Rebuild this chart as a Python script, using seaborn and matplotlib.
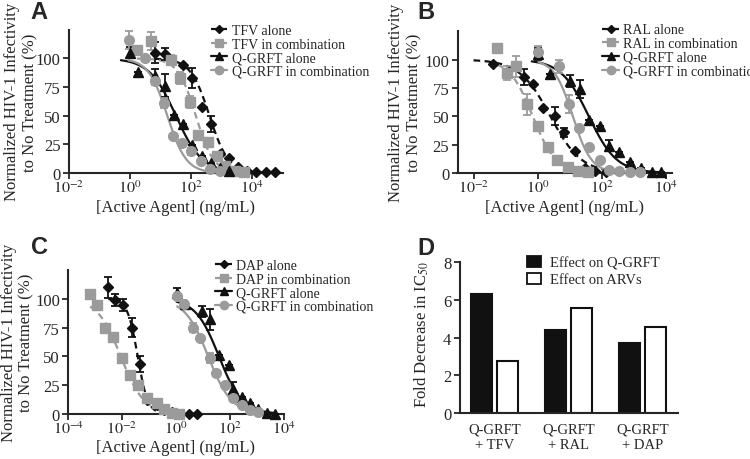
import numpy as np
import pandas as pd
import matplotlib
matplotlib.use("Agg")
import matplotlib.pyplot as plt
import seaborn as sns
from matplotlib.lines import Line2D
from matplotlib.patches import Patch
from matplotlib.ticker import NullLocator

BLACK = "#111111"
GRAY = "#9b9b9b"

# Panel A: TFV / Q-GRFT  (x = log10 ng/mL, y = % infectivity, err = SD)
a_tfv_alone_logc = [0.81, 1.14, 1.73, 2.03, 2.35, 2.65, 2.94, 3.23, 3.52, 3.82, 4.13, 4.44, 4.76]
a_tfv_alone_y = [105, 104, 94, 83, 58, 43, 16.5, 13, 5, 2, 1, 0.5, 0.5]
a_tfv_alone_err = [9, 5, 0, 9, 0, 7, 0, 0, 0, 0, 0, 0, 0]
a_tfv_combo_logc = [0.22, 0.70, 1.35, 1.65, 1.95, 2.24, 2.54, 2.84, 3.12, 3.43, 3.73]
a_tfv_combo_y = [107, 115, 99, 83, 62, 33, 27, 15, 6, 2, 0.5]
a_tfv_combo_err = [0, 8, 4, 5, 5, 0, 0, 0, 0, 0, 0]
a_qg_alone_logc = [0.0, 0.25, 0.81, 1.14, 1.44, 1.73, 2.03, 2.35, 2.65, 2.94, 3.25]
a_qg_alone_y = [105, 88, 85, 76, 51, 43, 24, 15, 9, 4, 2]
a_qg_alone_err = [5, 0, 6, 10, 0, 0, 0, 0, 0, 0, 0]
a_qg_combo_logc = [-0.05, 0.5, 0.83, 1.11, 1.41, 1.70, 2.0, 2.33, 2.63, 2.94]
a_qg_combo_y = [116, 100, 80, 61, 32, 26, 19, 10, 3.5, 2]
a_qg_combo_err = [8, 0, 3, 4, 0, 3, 3, 0, 0, 0]
# fitted curves: (log IC50, hill slope)
a_tfv_alone_fit = (2.6, 1.4)
a_tfv_combo_fit = (2.15, 1.5)
a_qg_alone_fit = (1.5, 1.0)
a_qg_combo_fit = (1.22, 1.4)

# Panel B: RAL / Q-GRFT
b_ral_alone_logc = [-1.39, -0.43, -0.13, 0.17, 0.54, 0.84, 1.16, 1.48, 1.81, 2.13]
b_ral_alone_y = [96, 84.5, 78, 57.6, 50, 35.7, 19.6, 4.4, 2, 0.6]
b_ral_alone_err = [0, 7, 0, 0, 8, 4, 0, 0, 0, 0]
b_ral_combo_logc = [-1.26, -0.94, -0.67, -0.32, 0.0, 0.32, 0.62, 0.95, 1.27, 1.59]
b_ral_combo_y = [110, 88, 94, 60.5, 41.5, 23, 11, 5.5, 2, 0.6]
b_ral_combo_err = [0, 6, 9, 9, 0, 0, 0, 0, 0, 0]
b_qg_alone_logc = [0.03, 0.39, 1.0, 1.32, 1.62, 1.94, 2.24, 2.56, 2.88, 3.23, 3.56, 3.87]
b_qg_alone_y = [105, 87, 81, 74, 47, 41.5, 24, 18, 10, 4.4, 1.2, 0.6]
b_qg_alone_err = [5, 0, 5, 8, 0, 0, 5, 0, 0, 0, 0, 0]
b_qg_combo_logc = [0.03, 0.68, 0.97, 1.29, 1.61, 1.94, 2.24, 2.56, 2.88, 3.2]
b_qg_combo_y = [107, 94, 60.5, 40, 22.5, 11, 2.6, 2, 1.2, 0.6]
b_qg_combo_err = [5, 6, 8, 0, 0, 0, 0, 0, 0, 0]
b_ral_alone_fit = (0.4, 0.9)
b_ral_combo_fit = (-0.15, 1.2)
b_qg_alone_fit = (1.6, 1.0)
b_qg_combo_fit = (1.1, 1.5)

# Panel C: DAP / Q-GRFT
c_dap_alone_logc = [-2.51, -2.26, -1.95, -1.64, -1.33, -1.06, -0.71, -0.44, -0.15, 0.16, 0.47, 0.78]
c_dap_alone_y = [110, 99, 94.5, 75, 43, 12, 8, 3.5, 1.5, 0, 0, 0]
c_dap_alone_err = [9, 5, 5, 8, 7, 0, 4, 0, 0, 0, 0, 0]
c_dap_combo_logc = [-3.19, -2.92, -2.64, -2.35, -2.01, -1.70, -1.39, -1.06, -0.71, -0.44, -0.15, 0.13]
c_dap_combo_y = [104, 94.5, 75, 66.6, 48.5, 34, 25.3, 14, 9.3, 4.4, 0.6, 0]
c_dap_combo_err = [4, 0, 0, 0, 0, 0, 0, 0, 0, 0, 0, 0]
c_qg_alone_logc = [0.03, 0.34, 0.96, 1.27, 1.62, 1.96, 2.12, 2.45, 2.76, 3.07, 3.38, 3.69]
c_qg_alone_y = [105, 95.6, 89, 82, 51.5, 42.7, 22, 15, 9.3, 4.4, 1.2, 0]
c_qg_alone_err = [4, 0, 5, 9, 0, 0, 6, 0, 0, 0, 0, 0]
c_qg_combo_logc = [0.05, 0.30, 0.65, 0.9, 1.25, 1.50, 1.83, 2.14, 2.45, 2.76, 3.07]
c_qg_combo_y = [102, 95, 75, 66, 48.5, 35.5, 25, 13.7, 7.8, 3.5, 1.5]
c_qg_combo_err = [0, 0, 4, 0, 4, 0, 0, 0, 0, 0, 0]
c_dap_alone_fit = (-1.42, 2.3)
c_dap_combo_fit = (-2.05, 1.0)
c_qg_alone_fit = (1.6, 1.0)
c_qg_combo_fit = (1.2, 1.0)

# Panel D: fold decrease in IC50
d_combos = ["Q-GRFT\n+ TFV", "Q-GRFT\n+ RAL", "Q-GRFT\n+ DAP"]
d_effect_qgrft = [6.3, 4.4, 3.7]
d_effect_arvs = [2.75, 5.55, 4.55]

sns.set_theme(style="ticks")
plt.rcParams["font.family"] = ["Liberation Serif", "DejaVu Serif"]
plt.rcParams["mathtext.fontset"] = "stix"
plt.rcParams["axes.linewidth"] = 1.5

fig = plt.figure(figsize=(7.5, 4.6), dpi=100)

STYLES = [
    dict(color=BLACK, marker="D", ms=5, ls=(0, (3, 2))),
    dict(color=GRAY, marker="s", ms=7, ls=(0, (3, 2))),
    dict(color=BLACK, marker="^", ms=7, ls="-"),
    dict(color=GRAY, marker="o", ms=7, ls="-"),
]


def fit_curve(lo, hi, fit):
    logic50, hill = fit
    xs = np.linspace(lo, hi, 200)
    return 10 ** xs, 100 / (1 + 10 ** (hill * (xs - logic50)))


def draw_series(ax, logc, y, err, fit, style, curve_lo=None):
    lo = min(logc) if curve_lo is None else curve_lo
    cx, cy = fit_curve(lo, max(logc), fit)
    sns.lineplot(x=cx, y=cy, ax=ax, color=style["color"], linestyle=style["ls"],
                 lw=1.6, sort=False, estimator=None, legend=False)
    x = 10 ** np.array(logc)
    ax.errorbar(x, y, yerr=err, fmt=style["marker"], color=style["color"],
                ms=style["ms"], capsize=3, elinewidth=1.3, capthick=1.3,
                clip_on=False, zorder=3)


def style_dose_axes(ax, xlim, xticks, labelpad=1):
    ax.set_xscale("log")
    ax.set_xlim(*xlim)
    ax.set_ylim(0, 125)
    ax.set_yticks([0, 25, 50, 75, 100])
    ax.set_xticks(xticks)
    ax.set_xticklabels([f"$10^{{{int(round(np.log10(t)))}}}$" for t in xticks])
    ax.xaxis.set_minor_locator(NullLocator())
    sns.despine(ax=ax)
    ax.tick_params(direction="out", length=4, width=1.3, labelsize=12, pad=2)
    ax.tick_params(axis="x", labelsize=11.5, pad=1)
    ax.set_xlabel("[Active Agent] (ng/mL)", fontsize=12, labelpad=labelpad)
    ax.set_ylabel("Normalized HIV-1 Infectivity\nto No Treatment (%)", fontsize=12,
                  linespacing=1.15)


def dose_legend(labels, anchor):
    handles = [Line2D([], [], color=s["color"], marker=s["marker"], ms=s["ms"] - 1,
                      ls=s["ls"], lw=1.6) for s in STYLES]
    fig.legend(handles, labels, loc="upper left", bbox_to_anchor=anchor,
               frameon=False, fontsize=10, handlelength=1.2, handletextpad=0.3,
               labelspacing=0.05, borderpad=0, borderaxespad=0)


# ---- Panel A
axA = fig.add_axes([0.092, 0.622, 0.285, 0.311])
style_dose_axes(axA, (1e-2, 1e5), [1e-2, 1e0, 1e2, 1e4], labelpad=2)
draw_series(axA, a_tfv_alone_logc, a_tfv_alone_y, a_tfv_alone_err, a_tfv_alone_fit, STYLES[0])
draw_series(axA, a_tfv_combo_logc, a_tfv_combo_y, a_tfv_combo_err, a_tfv_combo_fit, STYLES[1])
draw_series(axA, a_qg_alone_logc, a_qg_alone_y, a_qg_alone_err, a_qg_alone_fit, STYLES[2], -0.3)
draw_series(axA, a_qg_combo_logc, a_qg_combo_y, a_qg_combo_err, a_qg_combo_fit, STYLES[3])
axA.yaxis.set_label_coords(-0.145, 0.5)
dose_legend(["TFV alone", "TFV in combination", "Q-GRFT alone", "Q-GRFT in combination"],
            (0.281, 0.946))

# ---- Panel B
axB = fig.add_axes([0.610, 0.622, 0.286, 0.308])
style_dose_axes(axB, (10 ** -2.5, 10 ** 4.2), [1e-2, 1e0, 1e2, 1e4], labelpad=2)
draw_series(axB, b_ral_alone_logc, b_ral_alone_y, b_ral_alone_err, b_ral_alone_fit, STYLES[0], -2.0)
draw_series(axB, b_ral_combo_logc, b_ral_combo_y, b_ral_combo_err, b_ral_combo_fit, STYLES[1])
draw_series(axB, b_qg_alone_logc, b_qg_alone_y, b_qg_alone_err, b_qg_alone_fit, STYLES[2], -0.18)
draw_series(axB, b_qg_combo_logc, b_qg_combo_y, b_qg_combo_err, b_qg_combo_fit, STYLES[3])
axB.yaxis.set_label_coords(-0.166, 0.5)
dose_legend(["RAL alone", "RAL in combination", "Q-GRFT alone", "Q-GRFT in combination"],
            (0.803, 0.947))

# ---- Panel C
axC = fig.add_axes([0.091, 0.098, 0.287, 0.313])
style_dose_axes(axC, (1e-4, 1e4), [1e-4, 1e-2, 1e0, 1e2, 1e4], labelpad=1)
draw_series(axC, c_dap_alone_logc, c_dap_alone_y, c_dap_alone_err, c_dap_alone_fit, STYLES[0])
draw_series(axC, c_dap_combo_logc, c_dap_combo_y, c_dap_combo_err, c_dap_combo_fit, STYLES[1])
draw_series(axC, c_qg_alone_logc, c_qg_alone_y, c_qg_alone_err, c_qg_alone_fit, STYLES[2])
draw_series(axC, c_qg_combo_logc, c_qg_combo_y, c_qg_combo_err, c_qg_combo_fit, STYLES[3])
axC.yaxis.set_label_coords(-0.155, 0.5)
dose_legend(["DAP alone", "DAP in combination", "Q-GRFT alone", "Q-GRFT in combination"],
            (0.287, 0.435))

# ---- Panel D
axD = fig.add_axes([0.613, 0.100, 0.291, 0.328])
bars = pd.DataFrame({
    "combo": d_combos * 2,
    "effect": ["Effect on Q-GRFT"] * 3 + ["Effect on ARVs"] * 3,
    "fold": d_effect_qgrft + d_effect_arvs,
})
sns.barplot(data=bars, x="combo", y="fold", hue="effect", ax=axD,
            palette={"Effect on Q-GRFT": BLACK, "Effect on ARVs": "white"},
            edgecolor=BLACK, linewidth=1.5, width=0.72, gap=0.22, legend=False)
axD.set_xlim(-0.47, 2.48)
axD.set_ylim(0, 8)
axD.set_yticks([0, 2, 4, 6, 8])
sns.despine(ax=axD)
axD.tick_params(axis="y", direction="out", length=4, width=1.3, labelsize=12, pad=2)
axD.tick_params(axis="x", length=0, labelsize=10.5, pad=7)
axD.set_xlabel("")
axD.set_ylabel("Fold Decrease in IC$_{50}$", fontsize=12)
axD.yaxis.set_label_coords(-0.133, 0.53)
d_handles = [Patch(facecolor=BLACK, edgecolor=BLACK, lw=1.3),
             Patch(facecolor="white", edgecolor=BLACK, lw=1.3)]
fig.legend(d_handles, ["Effect on Q-GRFT", "Effect on ARVs"], loc="upper left",
           bbox_to_anchor=(0.702, 0.441), frameon=False, fontsize=10.5,
           handlelength=1.0, handleheight=0.8, handletextpad=0.6,
           labelspacing=0.2, borderpad=0, borderaxespad=0)

# panel letters
for letter, (x, y) in {"A": (0.040, 0.997), "B": (0.557, 0.997),
                       "C": (0.042, 0.487), "D": (0.557, 0.485)}.items():
    fig.text(x, y, letter, fontsize=17, fontweight="bold", va="top", ha="left",
             family=["Liberation Sans", "DejaVu Sans"])

fig.savefig("out.png", dpi=100)
